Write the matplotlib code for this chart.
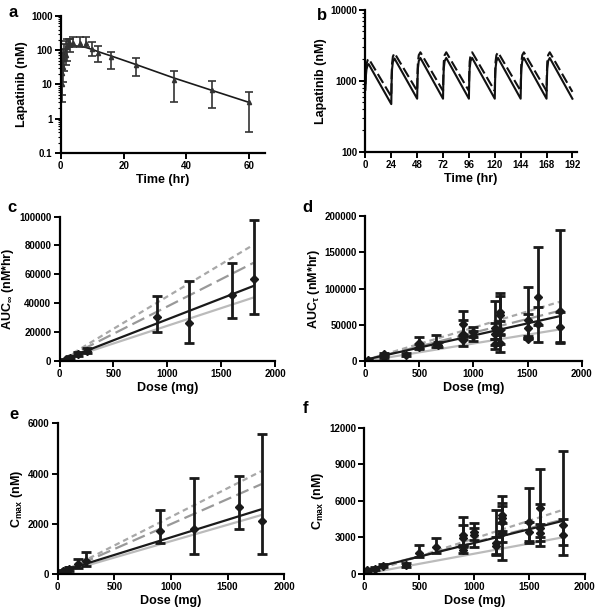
import matplotlib
matplotlib.use("Agg")
import matplotlib.pyplot as plt
import matplotlib.ticker as mticker

plt.rcParams['font.family'] = ['Liberation Sans', 'DejaVu Sans']
plt.rcParams['font.weight'] = 'bold'
plt.rcParams['mathtext.fontset'] = 'custom'
plt.rcParams['mathtext.rm'] = 'Liberation Sans:bold'
plt.rcParams['mathtext.it'] = 'Liberation Sans:bold'
plt.rcParams['mathtext.bf'] = 'Liberation Sans:bold'

# --- panel a: single dose profile ---
a_time = [0.25, 0.5, 0.75, 1, 1.5, 2, 2.5, 3, 4, 6, 8, 10, 12, 16, 24, 36, 48, 60]
a_mean = [10, 21, 32, 56, 70, 122, 170, 150, 160, 158, 158, 105, 84, 63, 36, 13.3, 6.9, 3.1]
a_low = [3, 5, 12, 25, 37, 47, 123, 90, 123, 123, 123, 66, 45, 29, 18, 3.0, 2.1, 0.42]
a_high = [48, 80, 110, 150, 190, 210, 210, 205, 240, 237, 237, 170, 131, 91, 59, 25, 12.5, 6.0]
a_model_time = [0.1, 0.25, 0.5, 0.75, 1, 1.5, 2, 2.5, 3, 4, 6, 8, 10, 12, 16, 24, 36, 48, 60]
a_model = [3, 12, 30, 50, 70, 100, 120, 130, 135, 135, 130, 120, 105, 90, 68, 38, 15.5, 6.8, 3.0]

# --- panel b: multiple dose simulation ---
b_time = [0, 0.5, 1, 2, 3,
          24, 24.3, 24.7, 25.5, 27,
          48, 48.3, 48.7, 49.5, 51,
          72, 72.3, 72.7, 73.5, 75,
          96, 96.3, 96.7, 97.5, 99,
          120, 120.3, 120.7, 121.5, 123,
          144, 144.3, 144.7, 145.5, 147,
          168, 168.3, 168.7, 169.5, 171,
          192]
b_solid = [750, 1200, 1450, 1650, 1720,
           470, 950, 1450, 1850, 2060,
           560, 1000, 1500, 1900, 2100,
           560, 1000, 1500, 1900, 2100,
           560, 1000, 1500, 1900, 2100,
           560, 1000, 1500, 1900, 2100,
           560, 1000, 1500, 1900, 2100,
           560, 1000, 1500, 1900, 2100,
           560]
b_dashed = [900, 1400, 1700, 1950, 2050,
            600, 1150, 1750, 2200, 2450,
            720, 1250, 1850, 2300, 2520,
            720, 1250, 1850, 2300, 2520,
            720, 1250, 1850, 2300, 2520,
            720, 1250, 1850, 2300, 2520,
            720, 1250, 1850, 2300, 2520,
            720, 1250, 1850, 2300, 2520,
            700]

# --- panel c: AUC inf vs dose ---
c_dose = [50, 100, 175, 250, 900, 1200, 1600, 1800]
c_mean = [1000, 2500, 5000, 7000, 30300, 26500, 45500, 56500]
c_low = [500, 1800, 3500, 5500, 20300, 12700, 30000, 32300]
c_high = [1500, 3200, 6500, 9000, 45000, 55600, 68200, 97800]
c_line_dose = [50, 1800]
c_dotted = [2200, 80500]
c_dashed = [1900, 68000]
c_black = [1400, 52000]
c_gray = [1200, 44000]

# --- panel d: AUC tau vs dose ---
d_dose = [25, 175, 175, 375, 500, 500, 650, 675, 900, 900, 900, 1000, 1000,
          1200, 1200, 1200, 1250, 1250, 1250, 1250, 1500, 1500, 1500, 1600, 1600, 1800, 1800]
d_mean = [1500, 9500, 6000, 9000, 25000, 20000, 24000, 22500, 51000, 38000, 29000, 40000, 35000,
          45000, 38000, 24000, 68000, 63000, 43000, 25000, 56000, 45000, 31000, 88000, 51000, 69000, 47000]
d_low = [1500, 8000, 4500, 7000, 18000, 17000, 20000, 19000, 36000, 30000, 21000, 33000, 28000,
         30000, 22000, 16500, 44000, 36000, 24000, 12000, 35000, 32000, 30000, 50000, 27000, 25000, 26000]
d_high = [1500, 11000, 7500, 11000, 33500, 24000, 35500, 26000, 68500, 56500, 35000, 47000, 42000,
          83000, 52000, 30000, 94500, 90000, 55000, 38000, 102000, 65000, 32000, 157000, 75000, 180000, 68000]
d_line_dose = [0, 1800]
d_dotted = [1500, 81800]
d_dashed = [1500, 69400]
d_black = [2000, 62000]
d_gray = [0, 43700]

# --- panel e: Cmax vs dose ---
e_dose = [50, 75, 100, 175, 250, 900, 1200, 1600, 1800]
e_mean = [100, 150, 200, 400, 500, 1710, 1790, 2650, 2110]
e_low = [50, 100, 130, 250, 300, 1220, 800, 1800, 780]
e_high = [150, 200, 270, 600, 880, 2530, 3840, 3900, 5580]
e_line_dose = [50, 1800]
e_dotted = [110, 4100]
e_dashed = [100, 3580]
e_black = [130, 2580]
e_gray = [70, 2350]

# --- panel f: Cmax vs dose ---
f_dose = [25, 100, 175, 375, 500, 650, 900, 900, 900, 1000, 1000,
          1200, 1200, 1250, 1250, 1250, 1250, 1500, 1500, 1600, 1600, 1600, 1800, 1800]
f_mean = [300, 450, 660, 740, 1750, 2190, 3200, 2930, 1970, 3470, 3200,
          2520, 2300, 4840, 4570, 4290, 3340, 4290, 3420, 5390, 3750, 3390, 4020, 3200]
f_low = [200, 350, 550, 600, 1370, 1700, 2200, 2400, 1700, 2800, 2240,
         1560, 1600, 3500, 3300, 2600, 1150, 2570, 2700, 2300, 3000, 2700, 1560, 2400]
f_high = [400, 550, 780, 880, 2380, 2930, 4700, 4020, 2300, 4210, 3800,
          5250, 3000, 6400, 5800, 5600, 4200, 7080, 4300, 8590, 5740, 4100, 10110, 4500]
f_line_dose = [0, 1800]
f_dotted = [0, 5250]
f_dashed = [300, 4450]
f_black = [300, 4350]
f_gray = [0, 3000]


def style_axis(ax):
    for side in ['top', 'right']:
        ax.spines[side].set_visible(False)
    for side in ['left', 'bottom']:
        ax.spines[side].set_linewidth(1.6)
    ax.tick_params(which='major', direction='out', length=4, width=1.4, labelsize=7, pad=2)
    ax.tick_params(which='minor', direction='out', length=2, width=0.8)
    for lbl in ax.get_xticklabels() + ax.get_yticklabels():
        lbl.set_fontweight('bold')


def dose_panel(ax, dose, mean, low, high, ldose, dotted, dashed, black, gray, ymax, ystep, ylabel):
    ax.plot(ldose, dotted, color='#a8a8a8', lw=1.6, dashes=(2.5, 1.8))
    ax.plot(ldose, dashed, color='#999999', lw=1.6, dashes=(6, 2.5))
    ax.plot(ldose, gray, color='#bbbbbb', lw=1.6)
    ax.plot(ldose, black, color='#1a1a1a', lw=1.6)
    yerr = [[m - l for m, l in zip(mean, low)], [h - m for m, h in zip(mean, high)]]
    ax.errorbar(dose, mean, yerr=yerr, fmt='D', color='#1a1a1a', ms=4, lw=2,
                capsize=3.5, capthick=2)
    ax.set_xlim(0, 2000)
    ax.set_ylim(0, ymax)
    ax.set_xticks(range(0, 2001, 500))
    ax.set_yticks(range(0, ymax + 1, ystep))
    ax.set_xlabel('Dose (mg)', fontsize=9, fontweight='bold', labelpad=2)
    ax.set_ylabel(ylabel, fontsize=9, fontweight='bold', labelpad=2)
    style_axis(ax)


fig = plt.figure(figsize=(6.02, 6.10), dpi=100)

plain = mticker.FuncFormatter(lambda v, p: f'{v:g}')

# panel a
ax_a = fig.add_axes([0.101, 0.749, 0.339, 0.225])
ax_a.plot(a_model_time, a_model, color='#1a1a1a', lw=1.2)
yerr_a = [[m - l for m, l in zip(a_mean, a_low)], [h - m for m, h in zip(a_mean, a_high)]]
ax_a.errorbar(a_time, a_mean, yerr=yerr_a, fmt='^', color='#333333', ms=3, lw=1.2,
              capsize=3, capthick=1.2)
ax_a.set_yscale('log')
ax_a.set_ylim(0.1, 1000)
ax_a.set_xlim(0, 65)
ax_a.set_xticks([0, 20, 40, 60])
ax_a.yaxis.set_major_formatter(plain)
ax_a.yaxis.set_minor_formatter(mticker.NullFormatter())
ax_a.set_xlabel('Time (hr)', fontsize=9, fontweight='bold', labelpad=2)
ax_a.set_ylabel('Lapatinib (nM)', fontsize=9, fontweight='bold', labelpad=2)
style_axis(ax_a)

# panel b
ax_b = fig.add_axes([0.607, 0.751, 0.351, 0.233])
ax_b.plot(b_time, b_solid, color='#111111', lw=1.5)
ax_b.plot(b_time, b_dashed, color='#111111', lw=1.5, dashes=(5, 2))
ax_b.set_yscale('log')
ax_b.set_ylim(100, 10000)
ax_b.set_xlim(0, 196)
ax_b.set_xticks(range(0, 193, 24))
ax_b.yaxis.set_major_formatter(plain)
ax_b.yaxis.set_minor_formatter(mticker.NullFormatter())
ax_b.set_xlabel('Time (hr)', fontsize=9, fontweight='bold', labelpad=2)
ax_b.set_ylabel('Lapatinib (nM)', fontsize=9, fontweight='bold', labelpad=2)
style_axis(ax_b)

# panels c-f
ax_c = fig.add_axes([0.099, 0.408, 0.358, 0.237])
dose_panel(ax_c, c_dose, c_mean, c_low, c_high, c_line_dose, c_dotted, c_dashed, c_black, c_gray,
           100000, 20000, r'AUC$_{\infty}$ (nM*hr)')
ax_d = fig.add_axes([0.607, 0.408, 0.359, 0.238])
dose_panel(ax_d, d_dose, d_mean, d_low, d_high, d_line_dose, d_dotted, d_dashed, d_black, d_gray,
           200000, 50000, r'AUC$_{\tau}$ (nM*hr)')
ax_e = fig.add_axes([0.096, 0.059, 0.376, 0.247])
dose_panel(ax_e, e_dose, e_mean, e_low, e_high, e_line_dose, e_dotted, e_dashed, e_black, e_gray,
           6000, 2000, r'C$_{max}$ (nM)')
ax_f = fig.add_axes([0.605, 0.059, 0.366, 0.240])
dose_panel(ax_f, f_dose, f_mean, f_low, f_high, f_line_dose, f_dotted, f_dashed, f_black, f_gray,
           12000, 3000, r'C$_{max}$ (nM)')

# panel letters
for letter, x, y in [('a', 0.022, 0.979), ('b', 0.535, 0.975), ('c', 0.020, 0.660),
                     ('d', 0.510, 0.660), ('e', 0.023, 0.320), ('f', 0.508, 0.331)]:
    fig.text(x, y, letter, fontsize=12, fontweight='bold', ha='center', va='center')

fig.savefig('out.png', dpi=100)
